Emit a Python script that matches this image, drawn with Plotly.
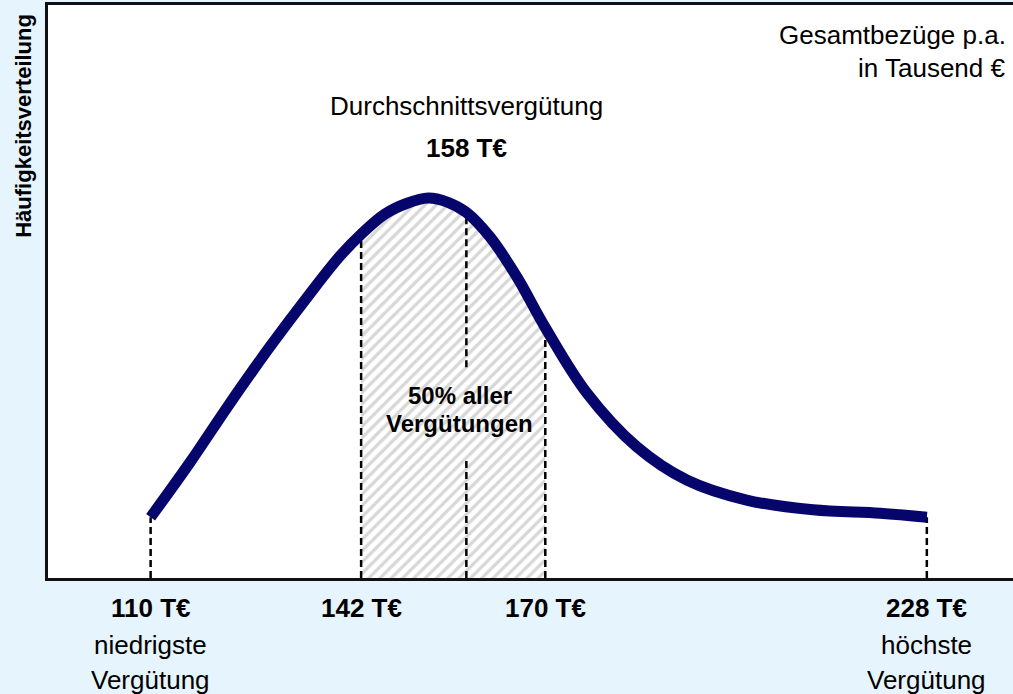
import numpy as np
import plotly.graph_objects as go

# Gesamtbezüge p.a. in T€ (x) und relative Häufigkeit (y, Skala 0-100)
curve_x = [110, 116.0, 122.0, 128.1, 134.2, 138.8, 142, 145.6, 149.0, 152.2, 155.1,
           158, 161.6, 165.7, 170, 176.3, 183.9, 191.5, 200.6, 210.7, 220.9, 228]
curve_y = [10.6, 20.2, 30.4, 40.3, 49.6, 56.2, 60.0, 63.5, 65.4, 66.3, 65.6,
           63.8, 59.5, 52.5, 43.7, 32.3, 22.9, 17.1, 13.6, 11.9, 11.3, 10.6]

marker_x = [110, 142, 158, 170, 228]
q_low, q_high = 142, 170
mean_x = 158
mean_gap = [20.9, 36.8]          # Lücke der Mittelwert-Linie für den Text

bottom_x = [110, 142, 170, 228]
bottom_labels = ['110 T€', '142 T€', '170 T€', '228 T€']
sub_labels = {110: 'niedrigste', 228: 'höchste'}

FONT = 'Liberation Sans, Arial, sans-serif'
NAVY = '#05056b'

fig = go.Figure()

# schraffierte Fläche (mittlere 50 %)
band_x = [x for x in curve_x if q_low <= x <= q_high]
band_y = [y for x, y in zip(curve_x, curve_y) if q_low <= x <= q_high]
fig.add_trace(go.Scatter(
    x=band_x, y=band_y, mode='lines', line=dict(width=0, shape='spline'),
    fill='tozeroy', fillcolor='white',
    fillpattern=dict(shape='/', fgcolor='#b0b0b0', bgcolor='white', size=8, solidity=0.4),
    hoverinfo='skip', showlegend=False))

# gestrichelte Linien
tops = np.interp(marker_x, curve_x, curve_y)
dx, dy = [], []
for x, t in zip(marker_x, tops):
    if x == mean_x:
        dx += [x, x, None, x, x, None]
        dy += [0, mean_gap[0], None, mean_gap[1], t, None]
    else:
        dx += [x, x, None]
        dy += [0, t, None]
fig.add_trace(go.Scatter(x=dx, y=dy, mode='lines',
                         line=dict(color='black', width=2.5, dash='7px,4px'),
                         hoverinfo='skip', showlegend=False))

# Verteilungskurve
fig.add_trace(go.Scatter(x=curve_x, y=curve_y, mode='lines',
                         line=dict(color=NAVY, width=11, shape='spline'),
                         showlegend=False))

ann = []
for x, lab in zip(bottom_x, bottom_labels):
    ann.append(dict(x=x, y=-0.052, text='<b>' + lab + '</b>', font=dict(size=26)))
    if x in sub_labels:
        ann.append(dict(x=x, y=-0.117, text=sub_labels[x], font=dict(size=26)))
        ann.append(dict(x=x, y=-0.178, text='Vergütung', font=dict(size=26)))
for a in ann:
    a.update(yref='paper')

ann += [
    dict(x=mean_x, y=82.4, text='Durchschnittsvergütung', font=dict(size=26)),
    dict(x=mean_x, y=75.0, text='<b>%d T€</b>' % mean_x, font=dict(size=26)),
    dict(x=157, y=31.9, text='<b>50% aller</b>', font=dict(size=24)),
    dict(x=157, y=27.0, text='<b>Vergütungen</b>', font=dict(size=24)),
]
for a in ann:
    a.setdefault('yref', 'y')
    a.update(xref='x', showarrow=False, xanchor='center', yanchor='middle')
    a['font'].update(family=FONT, color='black')

ann += [
    dict(xref='paper', yref='paper', x=-0.025, y=0.789, text='<b>Häufigkeitsverteilung</b>',
         textangle=-90, showarrow=False, xanchor='center', yanchor='middle',
         font=dict(family=FONT, size=22, color='black')),
    dict(xref='paper', yref='paper', x=0.995, y=0.948, text='Gesamtbezüge p.a.',
         showarrow=False, xanchor='right', yanchor='middle',
         font=dict(family=FONT, size=26, color='black')),
    dict(xref='paper', yref='paper', x=0.995, y=0.890, text='in Tausend €',
         showarrow=False, xanchor='right', yanchor='middle',
         font=dict(family=FONT, size=26, color='black')),
]

fig.update_layout(
    width=1013, height=694,
    margin=dict(l=48, r=0, t=5, b=116),
    paper_bgcolor='#e6f4fd', plot_bgcolor='white',
    annotations=ann,
    xaxis=dict(range=[94.4, 241.1], showgrid=False, zeroline=False, showticklabels=False,
               ticks='', showline=True, mirror=True, linecolor='#111', linewidth=3),
    yaxis=dict(range=[0, 100], showgrid=False, zeroline=False, showticklabels=False,
               ticks='', showline=True, linecolor='#111', linewidth=3),
)

fig.write_html('out.html', config={'displayModeBar': False},
               post_script="document.body.style.margin='0';")
